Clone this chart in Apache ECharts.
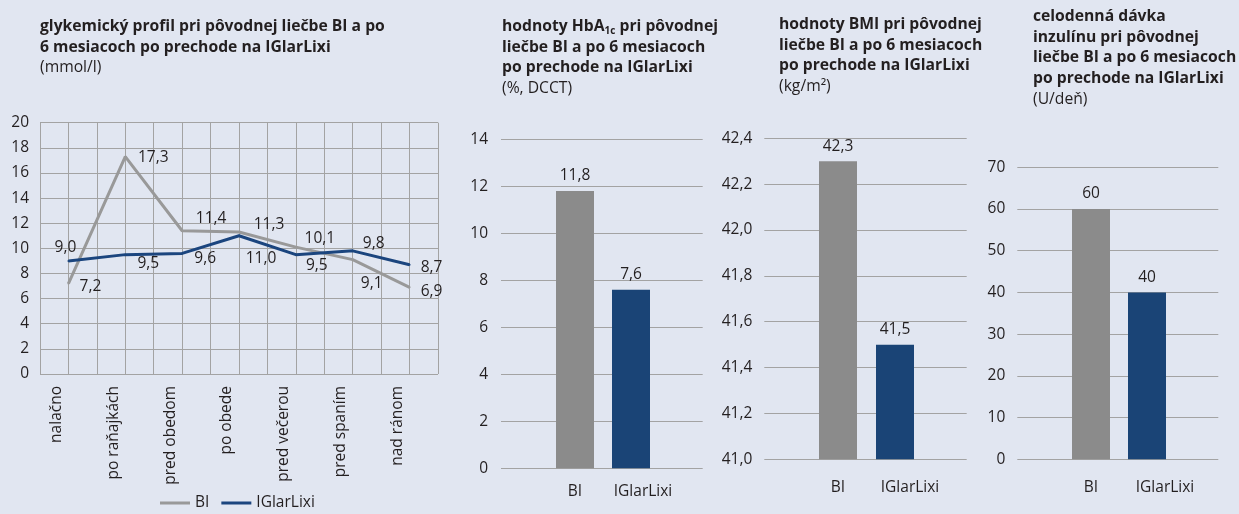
<!DOCTYPE html>
<html>
<head>
<meta charset="utf-8">
<script src="https://cdn.jsdelivr.net/npm/echarts@6/dist/echarts.min.js"></script>
<style>
html,body{margin:0;padding:0;background:#e1e6f1;}
#c{width:1239px;height:514px;}
</style>
</head>
<body>
<div id="c"></div>
<script>
// ---- data ----
const lineCategories = ['nalačno','po raňajkách','pred obedom','po obede','pred večerou','pred spaním','nad ránom'];
const biGlyc = [7.2, 17.3, 11.4, 11.3, 10.1, 9.1, 6.9];
const iglarGlyc = [9.0, 9.5, 9.6, 11.0, 9.5, 9.8, 8.7];
const seriesNames = ['BI', 'IGlarLixi'];
const barCategories = ['BI', 'IGlarLixi'];
const hba1cValues = [11.8, 7.6];
const bmiValues = [42.3, 41.5];
const doseValues = [60, 40];
const glycAxis = {min: 0, max: 20, interval: 2};
const hbaAxis = {min: 0, max: 14, interval: 2};
const bmiAxis = {min: 41, max: 42.4, interval: 0.2};
const doseAxis = {min: 0, max: 70, interval: 10};

// ---- styles ----
const GREY = '#8b8b8b', BLUE = '#1a4476', LINEGREY = '#999999', LINEBLUE = '#1b457e';
const TXT = '#231f20', GRID = '#a3a3a3';
const FONT = '"Open Sans", "Noto Sans", sans-serif';
const TFS = 15.7, TLH = 20.7;
const biOffsets = [[22,3],[28,1],[29,-12],[30,-7],[24,-9],[19,24],[22,4]];
const igOffsets = [[-3,-13],[23,9],[23,5],[22,23],[21,11],[21,-7],[22,3]];
const barColors = [GREY, BLUE];
const fmt1 = v => Number(v).toFixed(1).replace('.', ',');

function lineData(vals, offs) {
  return vals.map((v, i) => ({value: v, label: {offset: offs[i]}}));
}
function barData(vals) {
  return vals.map((v, i) => ({value: v, itemStyle: {color: barColors[i]}}));
}

const grids = [
  {left: 40, top: 122.7, width: 398, height: 251.3},
  {left: 501, top: 139.3, width: 201.7, height: 329},
  {left: 547, top: 139.3, width: 112, height: 329},
  {left: 764.3, top: 138.3, width: 202.4, height: 321},
  {left: 809.5, top: 138.3, width: 114, height: 321},
  {left: 1017.3, top: 167.3, width: 201, height: 292},
  {left: 1063, top: 167.3, width: 112, height: 292}
];

const tickLabel = {color: TXT, fontSize: 15.5, fontFamily: FONT};
const splitL = {show: true, lineStyle: {color: GRID, width: 1}};

function labelledY(grid, ax, margin, fmt) {
  return {type: 'value', gridIndex: grid, min: ax.min, max: ax.max, interval: ax.interval,
    axisLine: {show: false}, axisTick: {show: false}, splitLine: splitL,
    axisLabel: Object.assign({margin: margin, formatter: fmt}, tickLabel)};
}
function hiddenY(grid, ax) {
  return {type: 'value', gridIndex: grid, min: ax.min, max: ax.max, interval: ax.interval, show: false};
}
function barX(grid, margin, shift) {
  return {type: 'category', gridIndex: grid, boundaryGap: true,
    data: barCategories.map((c, i) => ({value: c, textStyle: {padding: [0, 0, 0, i ? shift : 0]}})),
    axisLine: {show: false}, axisTick: {show: false}, splitLine: {show: false},
    axisLabel: Object.assign({margin: margin, interval: 0}, tickLabel)};
}
function barSeries(x, y, vals, fmt) {
  return {type: 'bar', xAxisIndex: x, yAxisIndex: y, barWidth: 38, data: barData(vals),
    label: {show: true, position: 'top', distance: 7, formatter: p => fmt(p.value),
      color: TXT, fontSize: 15.5, fontFamily: FONT}};
}
const richStyles = {
  b: {fontFamily: FONT, fontWeight: 'bold', fontSize: TFS, color: TXT, lineHeight: TLH},
  r: {fontFamily: FONT, fontWeight: 'normal', fontSize: TFS, color: TXT, lineHeight: TLH},
  s: {fontFamily: FONT, fontWeight: 'bold', fontSize: 10, color: TXT, lineHeight: TLH, padding: [9, 0, 0, 0]}
};
function titleBlock(left, top, lines, sub) {
  return {left: left, top: top, padding: 0,
    text: lines.join('\n') + '\n{r|' + sub + '}',
    textStyle: {rich: richStyles}};
}
function boldLines(lines) { return lines.map(l => '{b|' + l + '}'); }

const option = {
  backgroundColor: '#e1e6f1',
  animation: false,
  textStyle: {fontFamily: FONT},
  title: [
    titleBlock(40, 16, boldLines(['glykemický profil pri pôvodnej liečbe BI a po', '6 mesiacoch po prechode na IGlarLixi']), '(mmol/l)'),
    titleBlock(502, 16, ['{b|hodnoty HbA}{s|1c}{b| pri pôvodnej}'].concat(boldLines(['liečbe BI a po 6 mesiacoch', 'po prechode na IGlarLixi'])), '(%, DCCT)'),
    titleBlock(779, 14, boldLines(['hodnoty BMI pri pôvodnej', 'liečbe BI a po 6 mesiacoch', 'po prechode na IGlarLixi']), '(kg/m²)'),
    titleBlock(1033, 6, boldLines(['celodenná dávka', 'inzulínu pri pôvodnej', 'liečbe BI a po 6 mesiacoch', 'po prechode na IGlarLixi']), '(U/deň)')
  ],
  legend: {
    data: seriesNames, left: 160, top: 495, icon: 'rect', itemWidth: 30, itemHeight: 3, itemGap: 12, padding: 0,
    textStyle: {color: TXT, fontSize: 15.5, fontFamily: FONT}
  },
  grid: grids,
  xAxis: [
    {type: 'category', gridIndex: 0, data: lineCategories, boundaryGap: true,
      axisLine: {show: false}, axisTick: {show: false}, splitLine: {show: false},
      axisLabel: Object.assign({rotate: 90, margin: 12, interval: 0, verticalAlign: 'bottom', lineHeight: 24}, tickLabel)},
    {type: 'value', gridIndex: 0, min: 0, max: 14, interval: 1,
      axisLine: {show: false}, axisTick: {show: false}, axisLabel: {show: false}, splitLine: splitL},
    {type: 'category', gridIndex: 1, data: [''], show: false},
    barX(2, 15, 24),
    {type: 'category', gridIndex: 3, data: [''], show: false},
    barX(4, 20, 30),
    {type: 'category', gridIndex: 5, data: [''], show: false},
    barX(6, 20, 36)
  ],
  yAxis: [
    labelledY(0, glycAxis, 11, v => String(v)),
    labelledY(1, hbaAxis, 13, v => String(v)),
    hiddenY(2, hbaAxis),
    labelledY(3, bmiAxis, 12, v => fmt1(v)),
    hiddenY(4, bmiAxis),
    labelledY(5, doseAxis, 12, v => String(v)),
    hiddenY(6, doseAxis)
  ],
  series: [
    {name: 'BI', type: 'line', xAxisIndex: 0, yAxisIndex: 0, data: lineData(biGlyc, biOffsets),
      symbol: 'circle', symbolSize: 2, showSymbol: true, lineStyle: {color: LINEGREY, width: 3}, itemStyle: {color: LINEGREY},
      label: {show: true, position: 'inside', formatter: p => fmt1(p.value), color: TXT, fontSize: 15.5, fontFamily: FONT}},
    {name: 'IGlarLixi', type: 'line', xAxisIndex: 0, yAxisIndex: 0, data: lineData(iglarGlyc, igOffsets),
      symbol: 'circle', symbolSize: 2, showSymbol: true, lineStyle: {color: LINEBLUE, width: 3}, itemStyle: {color: LINEBLUE},
      label: {show: true, position: 'inside', formatter: p => fmt1(p.value), color: TXT, fontSize: 15.5, fontFamily: FONT}},
    barSeries(3, 2, hba1cValues, fmt1),
    barSeries(5, 4, bmiValues, fmt1),
    barSeries(7, 6, doseValues, v => String(v))
  ]
};

const chart = echarts.init(document.getElementById('c'), null, {renderer: 'canvas'});
chart.setOption(option);
</script>
</body>
</html>
